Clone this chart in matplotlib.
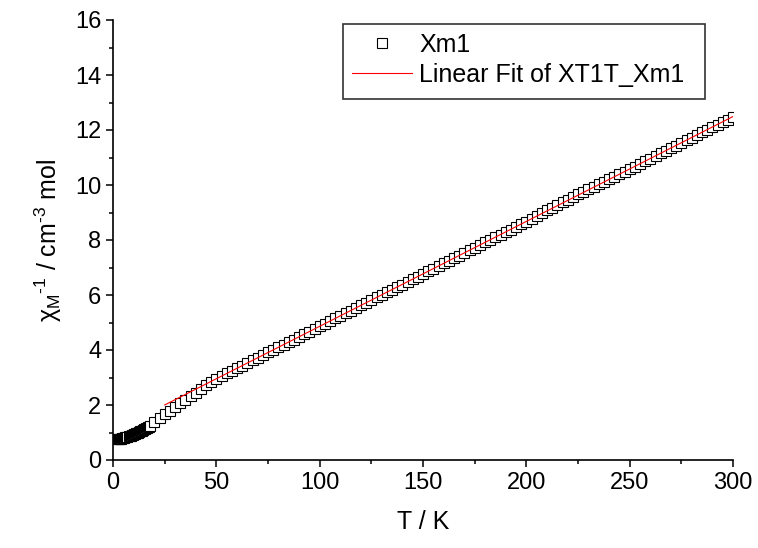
import numpy as np
import matplotlib
matplotlib.use("Agg")
import matplotlib.pyplot as plt
from matplotlib.patches import Rectangle

plt.rcParams['font.family'] = ['Liberation Sans', 'DejaVu Sans']
plt.rcParams['mathtext.fontset'] = 'custom'
plt.rcParams['mathtext.rm'] = 'Liberation Sans'
plt.rcParams['mathtext.it'] = 'Liberation Sans:italic'

# DATA

# low temperature points (dense)
T_low = [2.0, 2.5, 3.0, 3.5, 4.0, 4.5, 5.0, 5.5, 6.0, 6.5, 7.0, 7.5, 8.0,
         8.5, 9.0, 9.5, 10.0, 10.5, 11.0, 11.5, 12.0, 12.5, 13.0, 13.5,
         14.0, 14.5, 15.0, 15.5, 16.0, 16.5, 17.0, 17.5, 18.0]
chi_low = [0.76, 0.76, 0.77, 0.77, 0.78, 0.79, 0.80, 0.81, 0.82, 0.83,
           0.85, 0.86, 0.88, 0.89, 0.91, 0.92, 0.94, 0.95, 0.97, 0.99,
           1.00, 1.02, 1.04, 1.05, 1.07, 1.09, 1.11, 1.13, 1.15, 1.17,
           1.19, 1.21, 1.23]

# 20 K - 300 K
T_high = [20, 22.5, 25, 27.5, 30, 32.5, 35, 37.5, 40, 42.5, 45, 47.5, 50,
          52.5, 55, 57.5, 60, 62.5, 65, 67.5, 70, 72.5, 75, 77.5, 80, 82.5,
          85, 87.5, 90, 92.5, 95, 97.5, 100, 102.5, 105, 107.5, 110, 112.5,
          115, 117.5, 120, 122.5, 125, 127.5, 130, 132.5, 135, 137.5, 140,
          142.5, 145, 147.5, 150, 152.5, 155, 157.5, 160, 162.5, 165, 167.5,
          170, 172.5, 175, 177.5, 180, 182.5, 185, 187.5, 190, 192.5, 195,
          197.5, 200, 202.5, 205, 207.5, 210, 212.5, 215, 217.5, 220, 222.5,
          225, 227.5, 230, 232.5, 235, 237.5, 240, 242.5, 245, 247.5, 250,
          252.5, 255, 257.5, 260, 262.5, 265, 267.5, 270, 272.5, 275, 277.5,
          280, 282.5, 285, 287.5, 290, 292.5, 295, 297.5, 300]
chi_high = [1.38, 1.52, 1.66, 1.80, 1.93, 2.06, 2.19, 2.31, 2.45, 2.60, 2.73,
            2.85, 2.95, 3.05, 3.15, 3.24, 3.34, 3.43, 3.53, 3.62, 3.72, 3.81,
            3.91, 4.00, 4.10, 4.19, 4.29, 4.38, 4.48, 4.57, 4.67, 4.76, 4.86,
            4.96, 5.05, 5.15, 5.24, 5.34, 5.43, 5.53, 5.62, 5.72, 5.81, 5.91,
            6.00, 6.10, 6.19, 6.29, 6.38, 6.48, 6.57, 6.67, 6.77, 6.86, 6.96,
            7.05, 7.15, 7.24, 7.34, 7.43, 7.53, 7.62, 7.72, 7.81, 7.91, 8.00,
            8.10, 8.19, 8.29, 8.38, 8.48, 8.57, 8.67, 8.77, 8.88, 8.98, 9.08,
            9.18, 9.28, 9.37, 9.47, 9.56, 9.66, 9.75, 9.85, 9.94, 10.03, 10.12,
            10.21, 10.30, 10.39, 10.48, 10.57, 10.67, 10.77, 10.86, 10.96,
            11.05, 11.15, 11.24, 11.34, 11.43, 11.53, 11.62, 11.72, 11.81,
            11.91, 12.00, 12.10, 12.19, 12.29, 12.38, 12.48]

T = np.array(T_low + T_high)
chi = np.array(chi_low + chi_high)

# linear fit of the high temperature part
mask = T >= 50
slope, intercept = np.polyfit(T[mask], chi[mask], 1)
T_fit = np.array([25, 300])
chi_fit = intercept + slope * T_fit

# PLOT

fig = plt.figure(figsize=(7.58, 5.48), dpi=100)
ax = fig.add_axes([113 / 758, 88 / 548, 620 / 758, 440 / 548])

ax.plot(T, chi, 's', ms=7, mfc='white', mec='black', mew=0.8,
        label='Xm1', zorder=2)
ax.plot(T_fit, chi_fit, '-', color='red', lw=0.8,
        label='Linear Fit of XT1T_Xm1', zorder=3)

ax.set_xlim(0, 300)
ax.set_ylim(0, 16)
ax.set_xticks(np.arange(0, 301, 50))
ax.set_xticks(np.arange(0, 301, 25), minor=True)
ax.set_yticks(np.arange(0, 17, 2))
ax.set_yticks(np.arange(0, 17, 1), minor=True)
ax.tick_params(which='major', direction='out', length=5, width=1.1,
               labelsize=17)
ax.tick_params(which='minor', direction='out', length=3, width=1.1)

for side in ['top', 'right']:
    ax.spines[side].set_visible(False)
for side in ['left', 'bottom']:
    ax.spines[side].set_linewidth(1.2)

ax.set_xlabel('T / K', fontsize=18, labelpad=12)
ax.set_ylabel(r'χ$_\mathregular{M}$$^{\text{-1}}$ / cm$^{\text{-3}}$ mol',
              fontsize=18, labelpad=8)

leg = ax.legend(loc='upper left', bbox_to_anchor=(343 / 758, 1 - 24 / 548),
                bbox_transform=fig.transFigure, frameon=False, fontsize=18,
                handlelength=2.4, handletextpad=0.3, labelspacing=0.25,
                borderpad=0.35, borderaxespad=0)
fig.patches.append(Rectangle((343 / 758, 1 - 99 / 548), 362 / 758, 75 / 548,
                             transform=fig.transFigure, fill=False,
                             edgecolor='#333333', lw=1.2))

fig.savefig('out.png', dpi=100)
